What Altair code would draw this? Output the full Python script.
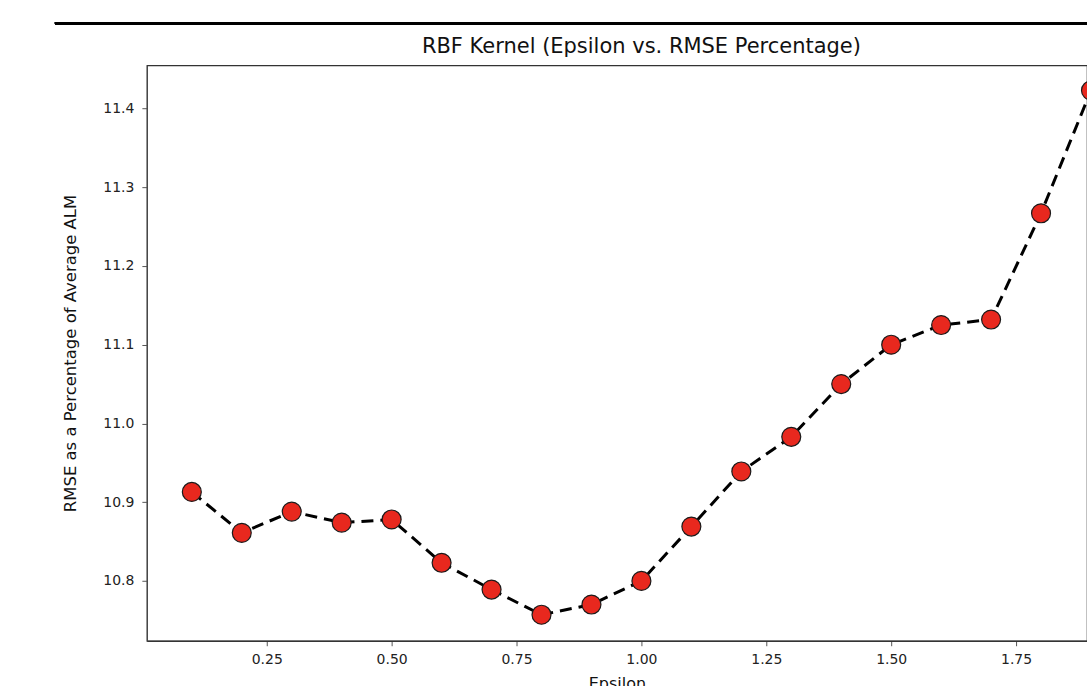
import altair as alt
import pandas as pd

# Epsilon sweep for the RBF kernel and the resulting RMSE (% of average ALM)
epsilon = [0.1, 0.2, 0.3, 0.4, 0.5, 0.6, 0.7, 0.8, 0.9, 1.0,
           1.1, 1.2, 1.3, 1.4, 1.5, 1.6, 1.7, 1.8, 1.9]
rmse_pct = [10.913, 10.861, 10.888, 10.874, 10.878, 10.823, 10.789, 10.757, 10.770, 10.800,
            10.869, 10.939, 10.983, 11.050, 11.100, 11.125, 11.132, 11.267, 11.423]

x_ticks = [0.25, 0.50, 0.75, 1.00, 1.25, 1.50, 1.75]
y_ticks = [10.8, 10.9, 11.0, 11.1, 11.2, 11.3, 11.4]

title_text = ["RBF Kernel (Epsilon vs. RMSE Percentage)"]

df = pd.DataFrame({"epsilon": epsilon, "rmse": rmse_pct})
title_df = pd.DataFrame({"t": title_text})

FONT = "DejaVu Sans"
PLOT_W = 941
PLOT_H = 576
PX_PER_UNIT = 500.0
x_lo = 0.01
x_hi = x_lo + PLOT_W / PX_PER_UNIT
# horizontal centre of the full axes box (it runs on past the right edge)
AXES_CENTRE = (1.99 - x_lo) * PX_PER_UNIT / 2

x_enc = alt.X(
    "epsilon:Q",
    title="Epsilon",
    scale=alt.Scale(domain=[x_lo, x_hi], nice=False, zero=False),
    axis=alt.Axis(values=x_ticks, format=".2f", grid=False, tickSize=5,
                  tickColor="#555", domainColor="#222", labelPadding=7,
                  titlePadding=9, labelFontSize=14, titleFontSize=16,
                  labelColor="#222", titleColor="#111", titleFontWeight="normal"),
)
y_enc = alt.Y(
    "rmse:Q",
    title="RMSE as a Percentage of Average ALM",
    scale=alt.Scale(domain=[10.724, 11.455], nice=False, zero=False),
    axis=alt.Axis(values=y_ticks, format=".1f", grid=False, tickSize=5,
                  tickColor="#555", domainColor="#444", labelPadding=8,
                  titlePadding=24, labelFontSize=14, titleFontSize=16.5,
                  labelColor="#222", titleColor="#111", titleFontWeight="normal"),
)

line = alt.Chart(df).mark_line(
    color="black", strokeWidth=3, strokeDash=[12, 7], clip=False
).encode(x=x_enc, y=y_enc)

points = alt.Chart(df).mark_point(
    shape="circle", filled=True, size=360, color="#e8281e",
    stroke="#1a1a1a", strokeWidth=1.2, opacity=1, clip=False
).encode(x="epsilon:Q", y="rmse:Q")

# Thin black rule across the top of the figure
top_rule = alt.Chart(df).mark_rule(color="black", strokeWidth=2.5, clip=False).encode(
    x=alt.value(-92), x2=alt.value(PLOT_W + 10), y=alt.value(-42)
)

# Chart heading, centred over the axes box
heading = alt.Chart(title_df).mark_text(
    font=FONT, fontSize=21, color="#111", align="center", baseline="alphabetic"
).encode(x=alt.value(AXES_CENTRE), y=alt.value(-12), text="t:N")

chart = alt.layer(line, points, top_rule, heading).properties(
    width=PLOT_W,
    height=PLOT_H,
    autosize=alt.AutoSizeParams(type="none"),
    padding={"left": 147, "top": 65, "right": 0, "bottom": 45},
).configure(
    font=FONT,
    background="white",
).configure_view(
    stroke="#333", strokeWidth=1.2,
).configure_axis(
    labelFont=FONT, titleFont=FONT,
)

chart.save("out.html", embed_options={"renderer": "svg", "actions": False})
